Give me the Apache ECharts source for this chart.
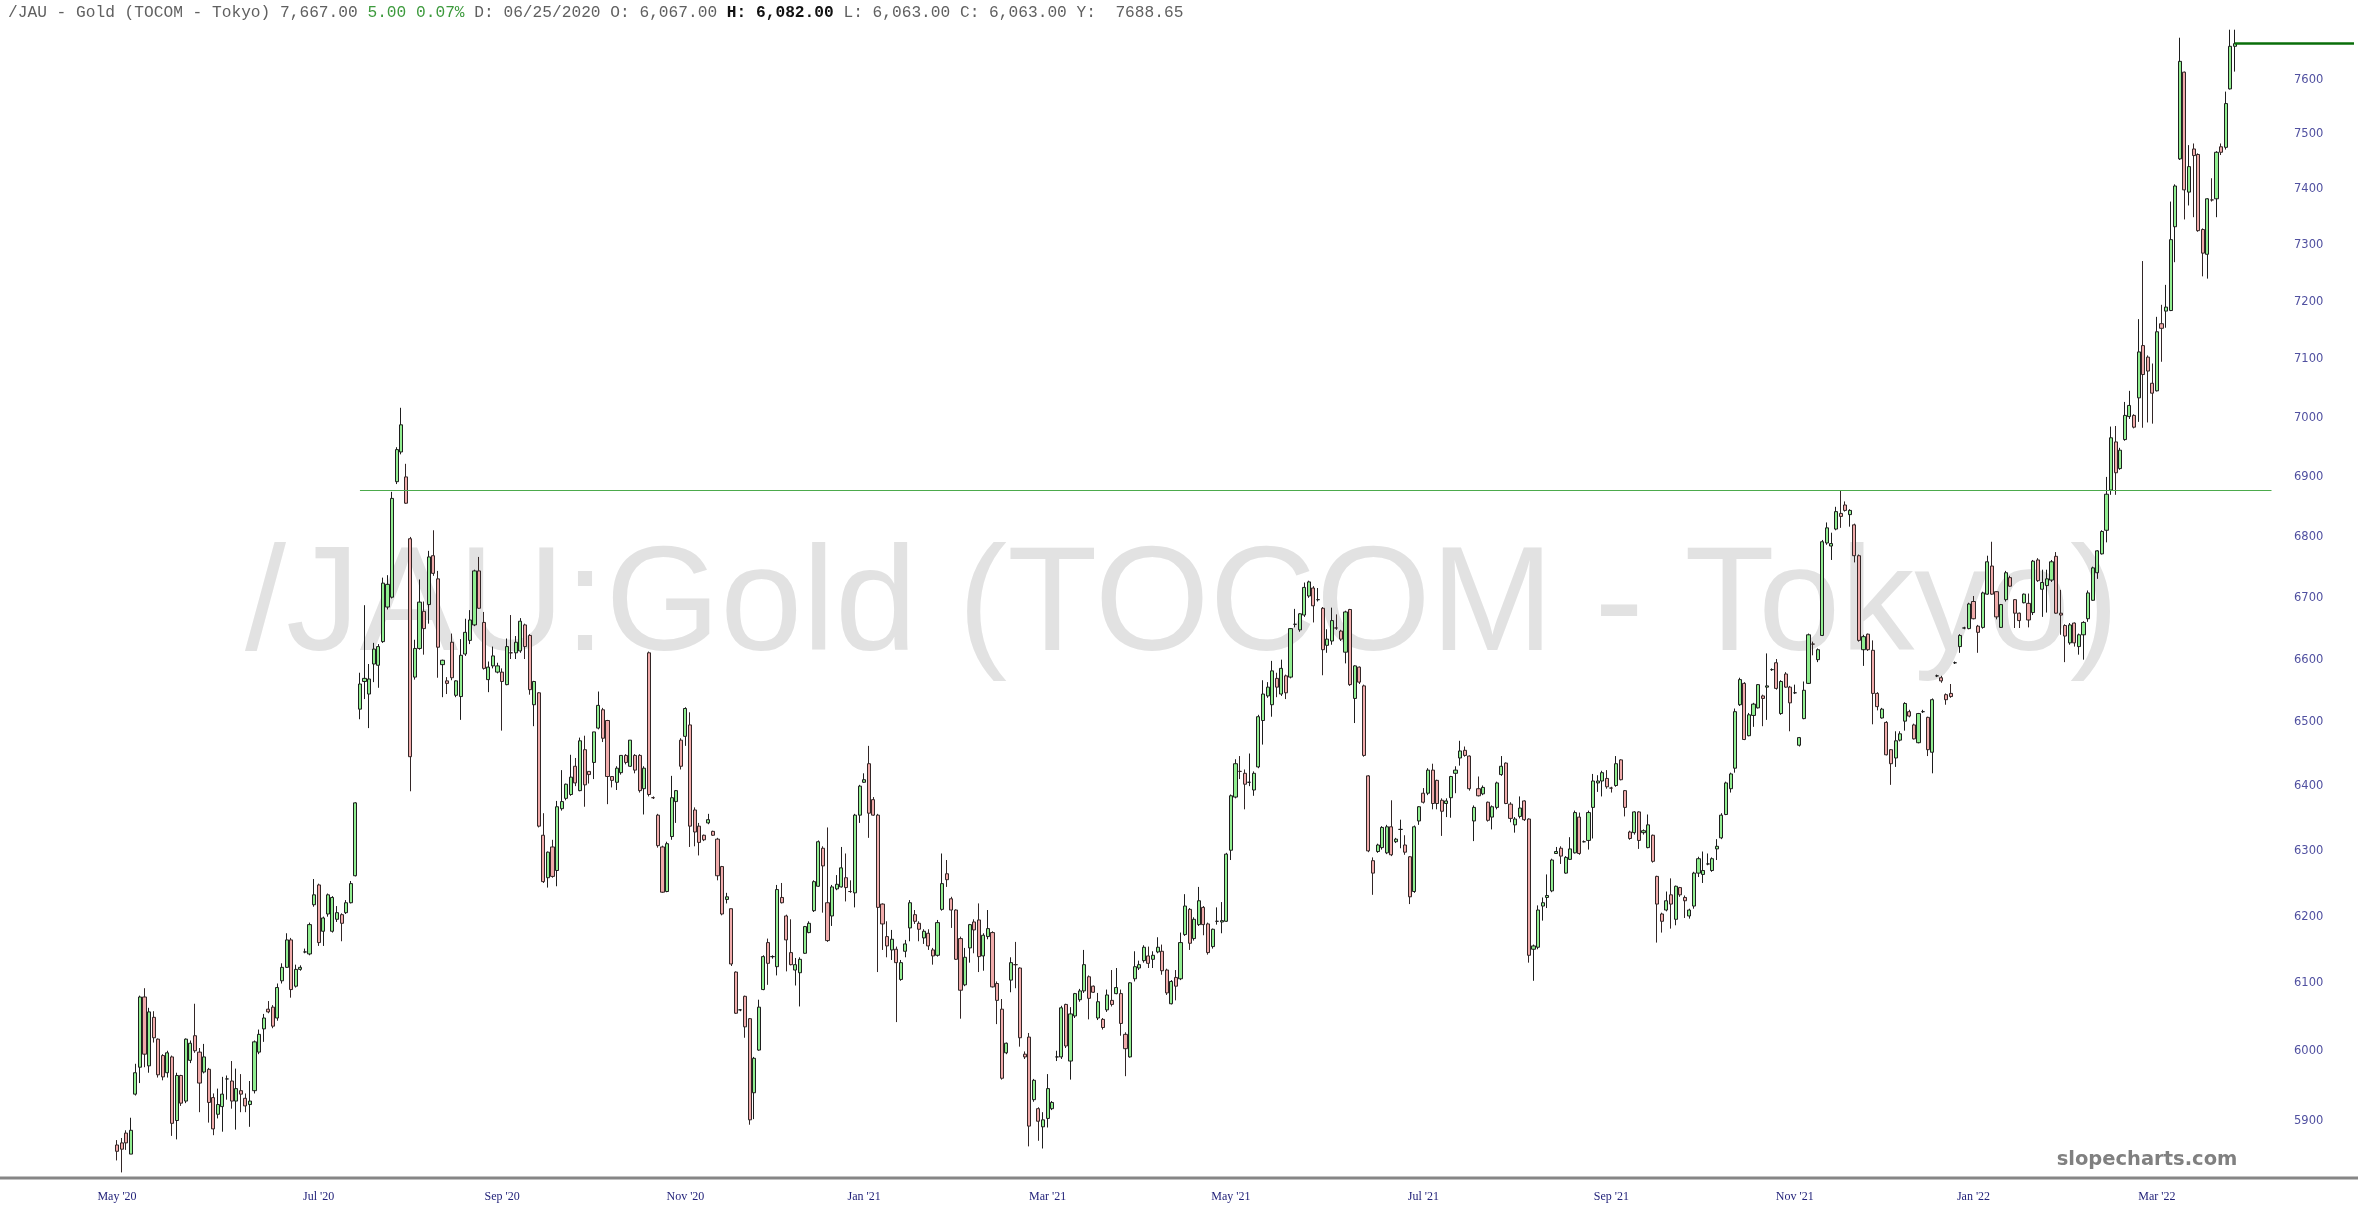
<!DOCTYPE html>
<html>
<head>
<meta charset="utf-8">
<script src="https://cdn.jsdelivr.net/npm/echarts@6/dist/echarts.min.js"></script>
<style>
html,body{margin:0;padding:0;background:#fff;}
#chart{width:2358px;height:1218px;}
</style>
</head>
<body>
<div id="chart"></div>
<script>
// ---- Data ----
const monthTickIdx = [0,44,84,124,163,203,243,285,326,366,405,445];
const monthTickText = ["May '20","Jul '20","Sep '20","Nov '20","Jan '21","Mar '21","May '21","Jul '21","Sep '21","Nov '21","Jan '22","Mar '22"];
const priceTicks = [5900,6000,6100,6200,6300,6400,6500,6600,6700,6800,6900,7000,7100,7200,7300,7400,7500,7600];
const slotCount = 489;          // trading-day slots on the axis (incl. empty space on the right)
const trendLevel = 6878;        // horizontal resistance line
const trendStart = 53, trendEnd = 470;
const lastPrice = 7667;

const openP = [
5865,5868,5882,5852,5938,5977,6080,5979,6050,6018,
5994,5969,5992,5900,5965,5928,5987,6023,5999,5970,
5974,5933,5909,5920,5960,5957,5928,5943,5932,5923,
5943,5999,6033,6062,6065,6049,6104,6124,6165,6096,
6121,6147,6144,6218,6248,6178,6204,6178,6196,6203,
6206,6221,6262,6521,6565,6545,6593,6591,6629,6685,
6701,6892,6942,6900,6797,6572,6618,6678,6689,6769,
6731,6592,6566,6628,6543,6541,6609,6631,6656,6744,
6660,6568,6590,6580,6580,6560,6611,6611,6614,6656,
6639,6528,6547,6324,6259,6306,6270,6365,6381,6387,
6431,6393,6457,6423,6437,6491,6520,6503,6415,6406,
6421,6448,6431,6448,6448,6396,6611,6382,6355,6306,
6238,6322,6376,6472,6478,6496,6363,6338,6324,6343,
6330,6318,6276,6226,6212,6117,6061,6081,6048,5940,
6002,6091,6161,6140,6125,6229,6201,6146,6120,6116,
6145,6176,6209,6246,6304,6221,6201,6242,6245,6259,
6238,6236,6355,6406,6435,6379,6355,6219,6170,6150,
6151,6106,6148,6183,6203,6190,6168,6175,6150,6142,
6211,6265,6227,6210,6167,6098,6153,6192,6195,6141,
6170,6176,6100,6062,5998,6105,6128,6123,5996,6021,
5930,5917,5891,5903,5917,5992,5992,6069,5986,6052,
6076,6089,6110,6096,6049,6047,6061,6075,6085,6085,
6025,5992,6107,6123,6134,6141,6136,6147,6148,6120,
6070,6109,6107,6173,6211,6167,6188,6214,6189,6155,
6193,6192,6193,6301,6383,6423,6420,6406,6394,6430,
6503,6542,6528,6570,6545,6574,6572,6657,6648,6672,
6703,6716,6697,6683,6623,6630,6651,6646,6612,6681,
6538,6588,6558,6416,6285,6299,6305,6297,6337,6314,
6333,6309,6291,6238,6346,6389,6389,6425,6409,6378,
6373,6382,6420,6444,6456,6447,6346,6396,6388,6375,
6352,6367,6418,6436,6372,6340,6353,6377,6349,6151,
6154,6216,6229,6239,6296,6304,6266,6287,6297,6352,
6314,6316,6367,6405,6408,6412,6397,6401,6441,6393,
6329,6328,6360,6328,6305,6324,6261,6204,6210,6233,
6196,6244,6229,6201,6216,6266,6264,6280,6270,6303,
6320,6356,6396,6428,6528,6562,6479,6511,6523,6542,
6556,6584,6595,6514,6577,6556,6547,6464,6506,6562,
6625,6600,6639,6790,6785,6813,6839,6853,6837,6820,
6769,6616,6641,6615,6546,6507,6500,6457,6444,6472,
6502,6517,6496,6468,6517,6508,6453,6574,6571,6544,
6546,6595,6621,6651,6650,6694,6654,6652,6706,6752,
6710,6652,6697,6733,6697,6675,6692,6691,6676,6762,
6714,6720,6729,6768,6675,6655,6627,6659,6621,6640,
6666,6696,6741,6772,6811,6878,6959,6914,6963,7002,
7004,7034,7124,7104,7059,7046,7162,7184,7185,7333,
7455,7614,7395,7473,7463,7328,7284,7381,7383,7477,
7476,7583,7662
];
const closeP = [
5856,5859,5868,5886,5969,6080,5996,6058,6020,5966,
5963,5998,5896,5965,5925,6018,6012,6001,5954,5992,
5926,5888,5923,5938,5960,5928,5946,5938,5921,5928,
6014,6025,6049,6058,6037,6094,6124,6165,6091,6121,
6124,6147,6188,6233,6161,6198,6233,6229,6206,6190,
6221,6250,6374,6561,6570,6569,6617,6621,6724,6722,
6864,6946,6988,6856,6446,6618,6693,6650,6767,6740,
6620,6599,6562,6571,6566,6607,6644,6664,6744,6683,
6586,6588,6606,6590,6565,6621,6611,6628,6662,6621,
6552,6565,6338,6253,6298,6261,6368,6376,6403,6414,
6405,6471,6402,6418,6485,6527,6475,6415,6409,6428,
6448,6437,6472,6425,6393,6428,6387,6382,6308,6237,
6311,6382,6393,6431,6522,6338,6329,6313,6317,6348,
6324,6262,6204,6230,6129,6056,6061,6036,5901,5990,
6065,6140,6130,6140,6241,6221,6165,6128,6128,6136,
6185,6190,6253,6314,6277,6164,6245,6249,6274,6244,
6238,6355,6400,6410,6358,6355,6214,6189,6156,6166,
6131,6131,6159,6221,6193,6181,6178,6156,6141,6191,
6250,6256,6210,6136,6090,6139,6188,6180,6140,6172,
6182,6095,6075,5961,6012,6131,6128,6020,5992,5892,
5958,5899,5901,5946,5926,5992,6064,6008,6055,6085,
6089,6128,6078,6087,6073,6035,6083,6069,6094,6041,
6004,6101,6125,6128,6154,6130,6142,6154,6119,6086,
6103,6096,6161,6216,6160,6196,6224,6188,6146,6181,
6193,6194,6295,6385,6435,6423,6403,6406,6420,6509,
6545,6556,6582,6556,6586,6547,6650,6657,6674,6717,
6726,6687,6697,6616,6633,6663,6651,6633,6677,6560,
6590,6564,6448,6300,6266,6309,6336,6337,6294,6318,
6333,6298,6230,6337,6368,6375,6425,6373,6373,6361,
6377,6415,6425,6455,6448,6396,6367,6385,6398,6347,
6368,6405,6431,6373,6350,6349,6366,6348,6142,6156,
6210,6221,6232,6286,6299,6292,6290,6303,6359,6296,
6314,6359,6408,6408,6421,6399,6397,6435,6410,6367,
6319,6360,6316,6331,6340,6284,6219,6193,6224,6219,
6246,6233,6224,6210,6266,6288,6270,6280,6288,6307,
6355,6405,6419,6517,6568,6473,6512,6529,6560,6538,
6558,6584,6554,6565,6556,6531,6547,6476,6551,6640,
6625,6616,6792,6815,6789,6842,6834,6844,6844,6769,
6631,6637,6616,6546,6525,6521,6449,6435,6471,6482,
6530,6510,6474,6514,6517,6457,6536,6574,6566,6536,
6541,6595,6639,6651,6690,6666,6644,6708,6759,6706,
6669,6689,6741,6719,6675,6663,6706,6664,6760,6728,
6725,6731,6759,6675,6672,6638,6656,6627,6640,6660,
6708,6749,6777,6809,6871,6966,6907,6945,7004,7021,
6984,7113,7074,7080,7042,7148,7154,7191,7310,7406,
7634,7399,7441,7461,7326,7286,7383,7381,7467,7467,
7556,7662,7667
];
const lowP = [
5843,5826,5858,5852,5936,5954,5977,5969,6013,5962,
5958,5962,5878,5873,5921,5925,5983,5998,5912,5968,
5897,5879,5903,5884,5930,5917,5887,5912,5912,5891,
5939,5996,6014,6056,6034,6045,6100,6123,6079,6094,
6119,6145,6142,6215,6156,6156,6200,6176,6192,6163,
6204,6220,6261,6505,6537,6491,6564,6555,6627,6681,
6699,6888,6938,6855,6392,6568,6616,6608,6658,6736,
6571,6540,6545,6567,6540,6504,6606,6625,6654,6682,
6584,6548,6586,6578,6487,6559,6601,6601,6611,6601,
6544,6494,6336,6251,6244,6259,6246,6362,6378,6385,
6400,6392,6368,6404,6411,6489,6469,6372,6398,6394,
6418,6434,6430,6420,6390,6356,6384,6380,6305,6236,
6237,6317,6343,6426,6463,6306,6307,6293,6315,6341,
6323,6255,6202,6220,6126,6055,6059,6020,5894,5902,
6001,6090,6098,6137,6112,6220,6118,6127,6097,6066,
6144,6175,6207,6245,6206,6162,6186,6240,6244,6223,
6236,6214,6343,6405,6320,6354,6117,6150,6139,6135,
6043,6104,6139,6163,6189,6163,6159,6150,6128,6140,
6209,6245,6183,6135,6048,6096,6131,6145,6117,6119,
6166,6094,6040,5959,5996,6087,6093,6007,5989,5863,
5927,5871,5860,5890,5915,5986,5989,6005,5959,6049,
6073,6086,6047,6086,6046,6032,6058,6066,6084,6023,
5964,5991,6103,6120,6131,6123,6123,6145,6113,6083,
6069,6075,6105,6171,6150,6164,6186,6172,6143,6152,
6188,6175,6192,6286,6381,6411,6364,6400,6385,6428,
6465,6539,6509,6540,6542,6537,6570,6652,6645,6669,
6700,6660,6694,6575,6611,6624,6648,6630,6594,6558,
6499,6561,6446,6298,6233,6297,6302,6295,6292,6312,
6304,6294,6219,6236,6340,6373,6386,6364,6364,6323,
6352,6351,6389,6432,6446,6393,6315,6384,6386,6345,
6333,6364,6416,6372,6344,6328,6350,6346,6131,6104,
6151,6194,6213,6237,6296,6280,6265,6286,6296,6294,
6313,6302,6319,6391,6384,6396,6390,6399,6409,6353,
6317,6325,6303,6325,6304,6282,6161,6176,6208,6182,
6187,6230,6198,6197,6212,6260,6251,6278,6268,6286,
6318,6355,6390,6421,6526,6472,6478,6493,6522,6494,
6504,6582,6552,6512,6555,6486,6545,6462,6505,6561,
6607,6596,6638,6787,6762,6811,6815,6842,6817,6758,
6629,6590,6614,6497,6519,6506,6448,6402,6430,6470,
6487,6508,6473,6467,6515,6447,6420,6572,6563,6528,
6539,6593,6611,6649,6649,6665,6611,6650,6705,6705,
6665,6651,6694,6718,6651,6651,6691,6652,6672,6726,
6669,6676,6726,6674,6640,6596,6624,6621,6608,6600,
6661,6695,6731,6771,6791,6870,6870,6912,6961,6998,
6982,6993,6983,6992,6990,7045,7096,7155,7184,7270,
7453,7346,7371,7350,7324,7245,7241,7378,7350,7462,
7472,7582,7615
];
const highP = [
5872,5875,5886,5904,5982,6082,6093,6064,6059,6019,
5996,6001,5994,5969,5966,6019,6016,6070,6005,6011,
5976,5939,5946,5963,5965,5986,5975,5967,5939,5957,
6016,6032,6055,6074,6068,6100,6130,6175,6168,6128,
6127,6152,6191,6257,6250,6200,6235,6231,6216,6205,
6225,6254,6375,6579,6688,6593,6627,6625,6733,6737,
6875,6950,7017,6922,6800,6632,6730,6694,6777,6811,
6744,6600,6572,6642,6567,6633,6666,6680,6746,6767,
6677,6597,6621,6595,6586,6634,6672,6638,6667,6658,
6641,6566,6548,6358,6299,6317,6377,6425,6404,6449,
6444,6476,6479,6423,6485,6549,6523,6504,6415,6431,
6448,6450,6472,6450,6450,6431,6613,6384,6357,6308,
6314,6416,6394,6475,6524,6516,6367,6343,6325,6357,
6331,6320,6277,6236,6212,6118,6062,6082,6049,5992,
6076,6142,6167,6142,6248,6251,6203,6196,6138,6139,
6186,6193,6255,6316,6307,6336,6248,6263,6306,6296,
6255,6357,6402,6420,6463,6383,6357,6220,6193,6180,
6155,6135,6165,6225,6210,6193,6181,6181,6153,6195,
6296,6286,6230,6211,6170,6153,6189,6196,6220,6175,
6210,6178,6103,6077,6013,6139,6162,6124,6000,6027,
5960,5919,5912,5967,5928,6001,6067,6070,6065,6086,
6092,6150,6112,6097,6086,6049,6091,6120,6123,6091,
6028,6102,6148,6134,6157,6155,6148,6169,6158,6122,
6105,6120,6176,6234,6213,6199,6245,6216,6191,6182,
6214,6222,6297,6387,6442,6447,6426,6451,6423,6512,
6567,6564,6598,6579,6600,6576,6651,6682,6675,6725,
6728,6719,6716,6685,6649,6684,6673,6648,6679,6682,
6591,6589,6560,6417,6290,6311,6338,6340,6378,6320,
6348,6324,6292,6339,6369,6397,6428,6435,6410,6381,
6381,6416,6431,6471,6462,6448,6370,6415,6401,6376,
6370,6407,6447,6437,6375,6352,6384,6378,6350,6158,
6217,6229,6264,6288,6306,6307,6292,6321,6362,6359,
6316,6362,6419,6417,6424,6425,6399,6447,6442,6394,
6331,6361,6361,6333,6356,6325,6262,6206,6238,6258,
6247,6245,6232,6212,6268,6291,6299,6296,6290,6318,
6358,6407,6421,6522,6571,6564,6515,6531,6561,6544,
6610,6586,6601,6567,6580,6558,6560,6477,6565,6642,
6629,6618,6795,6824,6807,6850,6877,6859,6846,6822,
6771,6640,6642,6631,6548,6523,6502,6458,6486,6486,
6532,6520,6498,6515,6520,6509,6538,6576,6574,6546,
6561,6597,6641,6653,6692,6703,6656,6710,6769,6792,
6711,6690,6744,6736,6698,6676,6707,6707,6762,6765,
6746,6746,6762,6775,6713,6657,6659,6660,6642,6662,
6712,6751,6778,6811,6900,6985,6986,6949,7027,7046,
7006,7170,7272,7107,7093,7174,7195,7230,7378,7409,
7678,7615,7480,7483,7465,7330,7384,7420,7469,7483,
7578,7693,7693
];

// ---- Chart ----
const W = 2358, H = 1218;
const gridLeft = 114.7, gridRight = 1.7, gridTop = 0, gridBottom = 41;
const yMin = 5819.5, yMax = 7748.8;

const categories = Array.from({length: slotCount}, (_, i) => String(i));
const ohlc = openP.map((o, i) => [o, closeP[i], lowP[i], highP[i]]);
const tickSet = new Set(monthTickIdx);
const tickText = {};
monthTickIdx.forEach((idx, k) => { tickText[String(idx)] = monthTickText[k]; });

const chart = echarts.init(document.getElementById('chart'), null, {renderer: 'canvas'});
const option = {
  animation: false,
  backgroundColor: '#ffffff',
  grid: {left: gridLeft, right: gridRight, top: gridTop, bottom: gridBottom, containLabel: false},
  xAxis: {
    type: 'category',
    data: categories,
    boundaryGap: true,
    axisLine: {show: false},
    axisTick: {show: false},
    splitLine: {show: false},
    axisLabel: {
      interval: (i) => tickSet.has(i),
      formatter: (v) => tickText[v] || '',
      color: '#23237a',
      fontFamily: 'Liberation Serif',
      fontSize: 12,
      margin: 14
    }
  },
  yAxis: {
    type: 'log',
    logBase: 10,
    position: 'right',
    min: yMin,
    max: yMax,
    axisLine: {show: false},
    axisTick: {show: false},
    splitLine: {show: false},
    axisLabel: {
      inside: true,
      margin: 33,
      customValues: priceTicks,
      formatter: (v) => String(Math.round(v)),
      color: '#5050a0',
      fontFamily: 'DejaVu Sans',
      fontSize: 11.5
    }
  },
  series: [{
    type: 'candlestick',
    data: ohlc,
    barWidth: 3.6,
    itemStyle: {
      color: '#90ee90',
      color0: '#f0aaaa',
      borderColor: '#1e1e1e',
      borderColor0: '#332626',
      borderWidth: 1
    },
    markLine: {
      silent: true,
      symbol: ['none', 'none'],
      label: {show: false},
      animation: false,
      data: [
        [{coord: [trendStart, trendLevel], lineStyle: {color: '#4caa4c', width: 1.2, type: 'solid'}},
         {coord: [trendEnd, trendLevel]}],
        [{coord: [openP.length - 1, lastPrice], lineStyle: {color: '#0a6e0a', width: 2.5, type: 'solid'}},
         {coord: [slotCount - 1, lastPrice]}]
      ]
    }
  }],
  graphic: [
    {
      type: 'text', z: -10, silent: true,
      x: 1182, y: 609,
      style: {
        text: '/JAU:Gold (TOCOM - Tokyo)',
        fontFamily: 'Liberation Sans', fontSize: 147.5,
        fill: '#e2e2e2', align: 'center', verticalAlign: 'middle'
      }
    },
    {
      type: 'rect', silent: true, z: 5,
      shape: {x: 0, y: 1176.5, width: W, height: 3},
      style: {fill: '#868686'}
    },
    {
      type: 'text', silent: true, z: 5,
      x: 2147, y: 1160,
      style: {
        text: 'slopecharts.com',
        fontFamily: 'DejaVu Sans', fontWeight: 'bold', fontSize: 19.5,
        fill: '#808080', align: 'center', verticalAlign: 'middle'
      }
    },
    {
      type: 'text', silent: true, z: 10,
      x: 8, y: 13,
      style: {
        text: '{a|/JAU - Gold (TOCOM - Tokyo) 7,667.00 }{g|5.00 0.07%}{a| D: 06/25/2020 O: 6,067.00 }{b|H: 6,082.00}{a| L: 6,063.00 C: 6,063.00 Y:  7688.65}',
        verticalAlign: 'middle',
        rich: {
          a: {fontFamily: 'Liberation Mono', fontSize: 16.2, fill: '#606060'},
          g: {fontFamily: 'Liberation Mono', fontSize: 16.2, fill: '#3d9a3d'},
          b: {fontFamily: 'Liberation Mono', fontSize: 16.2, fill: '#111111', fontWeight: 'bold'}
        }
      }
    }
  ]
};
chart.setOption(option);
</script>
</body>
</html>
